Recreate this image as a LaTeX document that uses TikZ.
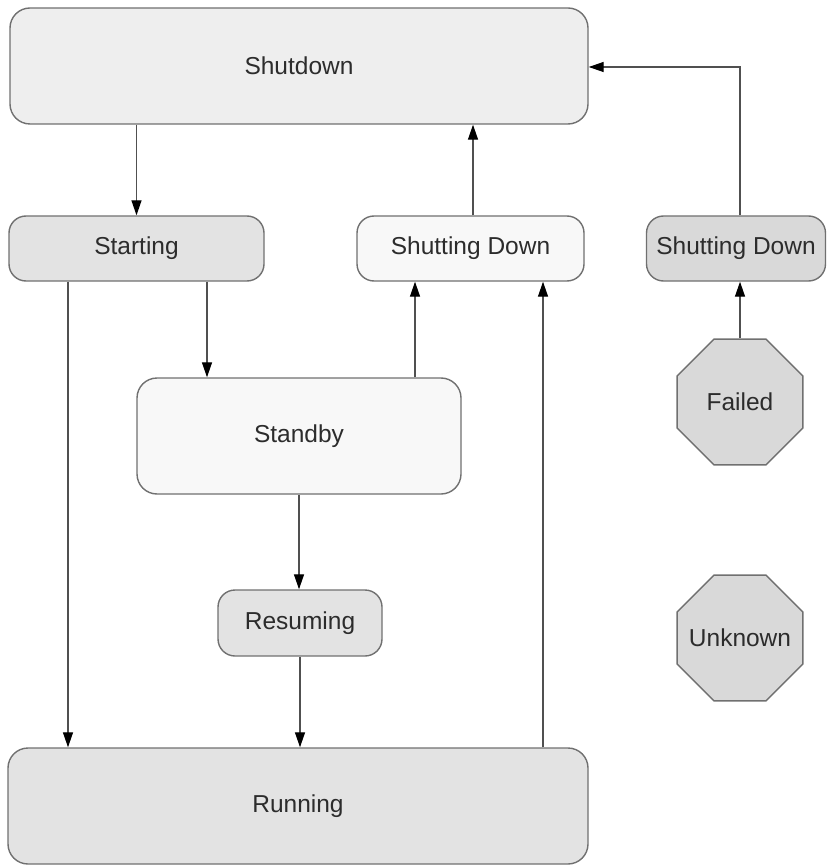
\documentclass[tikz,border=0pt]{standalone}
\usepackage{fontspec}
\setmainfont{Liberation Sans}
\usetikzlibrary{shapes.geometric,arrows.meta}
\definecolor{edgegray}{HTML}{707070}
\definecolor{linegray}{HTML}{505050}
\definecolor{txt}{HTML}{2C2C2C}
\definecolor{fillA}{HTML}{EEEEEE}
\definecolor{fillB}{HTML}{E3E3E3}
\definecolor{fillC}{HTML}{F8F8F8}
\definecolor{fillD}{HTML}{D9D9D9}
\tikzset{
  state/.style={draw=edgegray, line width=1.4pt, rounded corners=20pt, inner sep=0pt,
    text=txt, font=\fontsize{24.5}{28}\selectfont},
  smallstate/.style={state, rounded corners=17pt},
  octa/.style={regular polygon, regular polygon sides=8, draw=edgegray, line width=1.4pt,
    fill=fillD, minimum size=136pt, inner sep=0pt,
    label={[text=txt, font=\fontsize{24.5}{28}\selectfont]center:#1}},
  arr/.style={draw=linegray, line width=1.3pt,
    -{Triangle[length=15pt,width=10pt,color=black,fill=black]}}
}
\begin{document}
\begin{tikzpicture}[x=1pt,y=-1pt]
\useasboundingbox (0,0) rectangle (827,866);
% states
\node[state, fill=fillA, minimum width=578pt, minimum height=116pt] (shutdown) at (299,66) {Shutdown};
\node[smallstate, fill=fillB, minimum width=255pt, minimum height=65pt] (starting) at (136.5,248.5) {Starting};
\node[smallstate, fill=fillC, minimum width=227pt, minimum height=65pt] (sdown) at (470.5,248.5) {Shutting Down};
\node[smallstate, fill=fillD, minimum width=179pt, minimum height=65pt] (sdownf) at (736,248.5) {Shutting Down};
\node[state, fill=fillC, minimum width=324pt, minimum height=116pt] (standby) at (299,436) {Standby};
\node[smallstate, fill=fillB, minimum width=164pt, minimum height=66pt] (resuming) at (300,623) {Resuming};
\node[state, fill=fillB, minimum width=580pt, minimum height=116pt] (running) at (298,806) {Running};
\node[octa=Failed] (failed) at (740,402) {};
\node[octa=Unknown] (unknown) at (740,638) {};
% transitions
\draw[arr] (shutdown.south -| starting) -- (starting.north);
\draw[arr] ([xshift=-68.5pt]starting.south) -- ([xshift=-68.5pt]starting.south |- running.north);
\draw[arr] ([xshift=70.5pt]starting.south) -- ([xshift=70.5pt]starting.south |- standby.north);
\draw[arr] ([xshift=116pt]standby.north) -- ([xshift=116pt]standby.north |- sdown.south);
\draw[arr] ([xshift=245pt]running.north) -- ([xshift=245pt]running.north |- sdown.south);
\draw[arr] ([xshift=2.5pt]sdown.north) -- ([xshift=2.5pt]sdown.north |- shutdown.south);
\draw[arr] ([xshift=4pt]sdownf.north) |- ([yshift=-1pt]shutdown.east);
\draw[arr] (failed.north) -- (failed.north |- sdownf.south);
\draw[arr] (standby.south) -- (standby.south |- resuming.north);
\draw[arr] (resuming.south) -- (resuming.south |- running.north);
\end{tikzpicture}
\end{document}
